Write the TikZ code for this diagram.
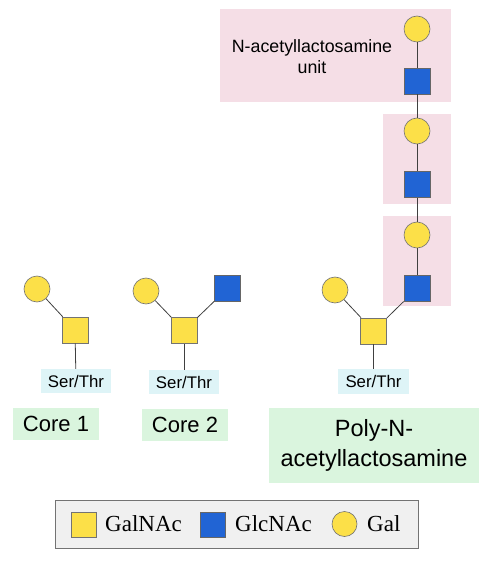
\documentclass[tikz,border=0pt]{standalone}
\usepackage{fontspec}
\setmainfont{Liberation Sans}
\newfontfamily\legfont{Liberation Serif}
\definecolor{galy}{RGB}{252,224,72}
\definecolor{glcb}{RGB}{33,100,212}
\definecolor{pinkbg}{RGB}{245,222,230}
\definecolor{greenbg}{RGB}{218,245,222}
\definecolor{cyanbg}{RGB}{222,244,247}
\definecolor{leggray}{RGB}{240,240,240}
\tikzset{
  galsq/.style={rectangle,draw=black!55,line width=0.6pt,fill=galy,minimum size=26pt,inner sep=0pt},
  glcsq/.style={rectangle,draw=black!60,line width=0.6pt,fill=glcb,minimum size=26pt,inner sep=0pt},
  galci/.style={circle,draw=black!55,line width=0.6pt,fill=galy,minimum size=26pt,inner sep=0pt},
  serthr/.style={rectangle,fill=cyanbg,minimum width=70pt,minimum height=24pt,inner sep=0pt,font=\fontsize{16.8}{19}\selectfont},
  corebox/.style={rectangle,fill=greenbg,minimum width=86pt,minimum height=32pt,inner sep=0pt,font=\fontsize{22}{26}\selectfont},
  pinkbox/.style={rectangle,fill=pinkbg,inner sep=0pt},
  link/.style={draw=black!75,line width=0.8pt},
  leglabel/.style={anchor=west,inner sep=0pt,font=\legfont\fontsize{23}{27}\selectfont}
}
\begin{document}
\begin{tikzpicture}[x=1pt,y=-1pt]
\useasboundingbox (0,0) rectangle (491,561);
% pink background boxes
\node[pinkbox,minimum width=231pt,minimum height=93pt] (p1) at (335.5,55.5) {};
\node[pinkbox,minimum width=68pt,minimum height=90pt] (p2) at (417,159) {};
\node[pinkbox,minimum width=68pt,minimum height=90pt] (p3) at (417,261) {};
\node[align=center,font=\fontsize{17.8}{21}\selectfont,inner sep=0pt] (unit) at (312,57) {N-acetyllactosamine\\unit};

% Core 1
\node[galci] (c1gal) at (37,289) {};
\node[galsq] (c1galnac) at (75,330) {};
\node[serthr] (c1st) at (76,381) {Ser/Thr};
\node[corebox] (c1lab) at (56,424) {Core 1};
\draw[link] (c1gal) -- (c1galnac);
\draw[link] (c1galnac) -- (c1st);

% Core 2
\node[galci] (c2gal) at (146,291) {};
\node[glcsq] (c2glc) at (227.5,288.5) {};
\node[galsq] (c2galnac) at (184,330.5) {};
\node[serthr] (c2st) at (184,382) {Ser/Thr};
\node[corebox] (c2lab) at (185,424.5) {Core 2};
\draw[link] (c2gal) -- (c2galnac);
\draw[link] (c2glc) -- (c2galnac);
\draw[link] (c2galnac) -- (c2st);

% Poly-N-acetyllactosamine
\node[galci] (pg1) at (417,29) {};
\node[glcsq] (pn1) at (417,81) {};
\node[galci] (pg2) at (417,131) {};
\node[glcsq] (pn2) at (417,184.5) {};
\node[galci] (pg3) at (417,235) {};
\node[glcsq] (pn3) at (417,288.5) {};
\node[galci] (pgal) at (335,290) {};
\node[galsq] (pgalnac) at (373.5,331) {};
\node[serthr,minimum width=71pt,minimum height=25pt] (pst) at (373.5,381.5) {Ser/Thr};
\node[rectangle,fill=greenbg,minimum width=210pt,minimum height=75pt,inner sep=0pt,align=center,font=\fontsize{23.5}{30}\selectfont] (plab) at (374,445.5) {Poly-N-\\acetyllactosamine};
\draw[link] (pg1) -- (pn1);
\draw[link] (pn1) -- (pg2);
\draw[link] (pg2) -- (pn2);
\draw[link] (pn2) -- (pg3);
\draw[link] (pg3) -- (pn3);
\draw[link] (pn3) -- (pgalnac);
\draw[link] (pgal) -- (pgalnac);
\draw[link] (pgalnac) -- (pst);

% Legend
\node[rectangle,draw=black!55,line width=0.8pt,fill=leggray,minimum width=363pt,minimum height=48pt,inner sep=0pt] (legend) at (236.5,524) {};
\node[galsq,minimum size=25pt] (lgalnac) at (83.5,524.5) {};
\node[leglabel] (tgalnac) at (105,524) {GalNAc};
\node[glcsq,minimum size=25pt] (lglc) at (212.5,524.5) {};
\node[leglabel] (tglc) at (235,524) {GlcNAc};
\node[galci,minimum size=25pt] (lgal) at (344.5,524) {};
\node[leglabel] (tgal) at (367,524) {Gal};
\end{tikzpicture}
\end{document}
